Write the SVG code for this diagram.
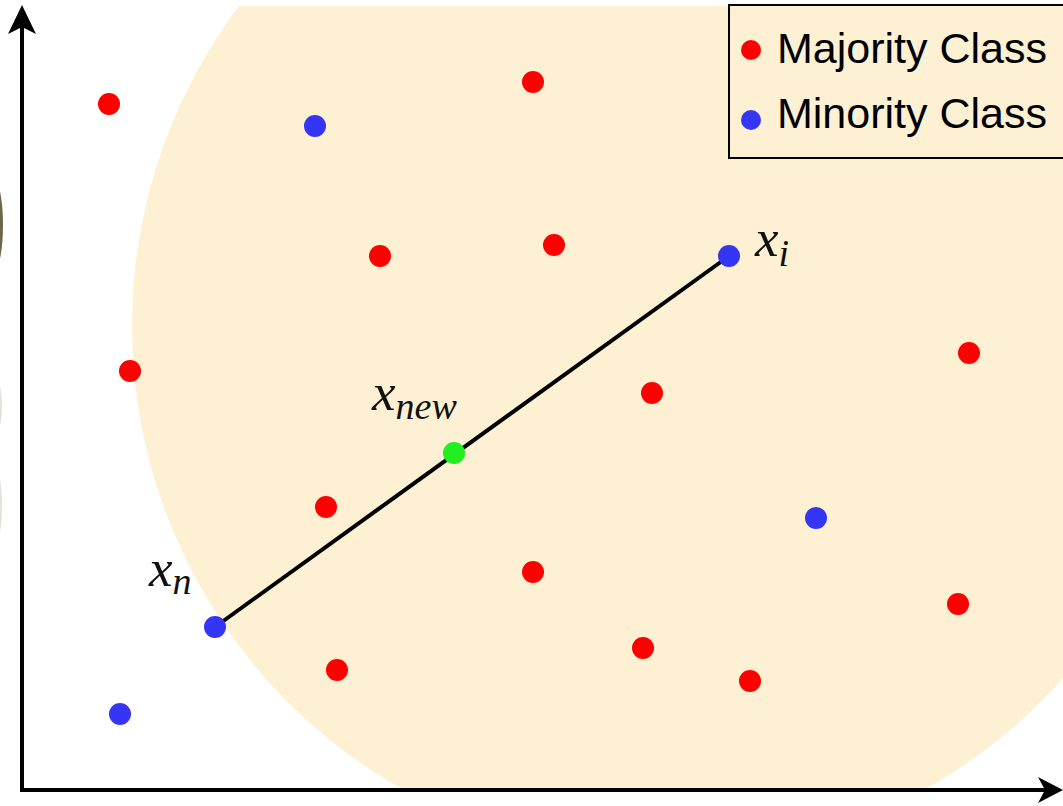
<svg xmlns="http://www.w3.org/2000/svg" width="1063" height="806" viewBox="0 0 1063 806">
  <style>
    .maj { fill: #ff0000; }
    .min { fill: #3535f5; }
    .new { fill: #22ee22; }
    .math { font-family: "Liberation Serif", "DejaVu Serif", serif; font-style: italic; font-size: 53px; fill: #111; }
    .sub { font-size: 38px; }
    .leg { font-family: "Liberation Sans", Arial, sans-serif; font-size: 43px; fill: #000; }
    .axis { stroke: #000; stroke-width: 4; fill: none; }
  </style>
  <defs>
    <clipPath id="plotClip">
      <rect x="0" y="6" width="1063" height="784"/>
    </clipPath>
  </defs>
  <rect x="0" y="0" width="1063" height="806" fill="#ffffff"/>

  <!-- edge slivers at left border -->
  <ellipse cx="-6" cy="225" rx="9" ry="45" fill="#6d6649"/>
  <ellipse cx="-6" cy="406" rx="8" ry="30" fill="#e4e2dc"/>
  <ellipse cx="-6" cy="506" rx="8" ry="40" fill="#e4e2dc"/>

  <!-- neighbourhood region -->
  <g id="region" clip-path="url(#plotClip)">
    <circle cx="664" cy="326" r="532" fill="#fdf0d3"/>
  </g>

  <!-- axes -->
  <g id="axes">
    <line class="axis" x1="22" y1="790" x2="22" y2="20"/>
    <line class="axis" x1="20" y1="790" x2="1050" y2="790"/>
    <polygon points="22,5 8,34 22,27 36,34" fill="#000"/>
    <polygon points="1063,790 1038,777 1045,790 1038,803" fill="#000"/>
  </g>

  <!-- connectors -->
  <g id="connectors">
    <line x1="215" y1="627" x2="729" y2="256" stroke="#000" stroke-width="4"/>
  </g>

  <!-- majority class points -->
  <g id="majority">
    <circle id="r1" class="maj" cx="109" cy="104" r="11"/>
    <circle id="r2" class="maj" cx="533" cy="82" r="11"/>
    <circle id="r3" class="maj" cx="380" cy="256" r="11"/>
    <circle id="r4" class="maj" cx="554" cy="245" r="11"/>
    <circle id="r5" class="maj" cx="130" cy="371" r="11"/>
    <circle id="r6" class="maj" cx="652" cy="393" r="11"/>
    <circle id="r7" class="maj" cx="969" cy="353" r="11"/>
    <circle id="r8" class="maj" cx="326" cy="507" r="11"/>
    <circle id="r9" class="maj" cx="533" cy="572" r="11"/>
    <circle id="r10" class="maj" cx="958" cy="604" r="11"/>
    <circle id="r11" class="maj" cx="643" cy="648" r="11"/>
    <circle id="r12" class="maj" cx="337" cy="670" r="11"/>
    <circle id="r13" class="maj" cx="750" cy="681" r="11"/>
  </g>

  <!-- minority class points -->
  <g id="minority">
    <circle id="b1" class="min" cx="315" cy="126" r="11"/>
    <circle id="b3" class="min" cx="816" cy="518" r="11"/>
    <circle id="b5" class="min" cx="120" cy="714" r="11"/>
  </g>

  <g id="node-xi">
    <circle class="min" cx="729" cy="256" r="11"/>
    <text class="math" x="755" y="256">x<tspan class="sub" dy="10">i</tspan></text>
  </g>

  <g id="node-xn">
    <circle class="min" cx="215" cy="627" r="11"/>
    <text class="math" x="149" y="586">x<tspan class="sub" dy="8">n</tspan></text>
  </g>

  <g id="node-xnew">
    <circle class="new" cx="454" cy="453" r="11"/>
    <text class="math" x="372" y="410">x<tspan class="sub" dy="9">new</tspan></text>
  </g>

  <!-- legend -->
  <g id="legend">
    <rect x="729" y="5" width="340" height="153" fill="#fdf0d3" stroke="#000" stroke-width="2"/>
    <circle class="maj" cx="751" cy="50" r="10"/>
    <text class="leg" x="777" y="63">Majority Class</text>
    <circle class="min" cx="751" cy="120" r="10"/>
    <text class="leg" x="777" y="128">Minority Class</text>
  </g>
</svg>
